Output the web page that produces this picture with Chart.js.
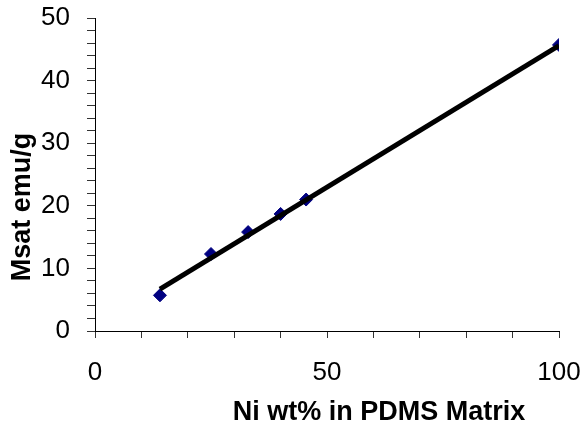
<!DOCTYPE html>
<html>
<head>
<meta charset="utf-8">
<script src="https://cdn.jsdelivr.net/npm/chart.js@4/dist/chart.umd.min.js"></script>
<style>
  html, body { margin: 0; padding: 0; background: #fff; }
  canvas { display: block; }
</style>
</head>
<body>
<canvas id="grafico" width="585" height="426"></canvas>
<script>
// Datos
const niWt = [14, 25, 33, 40, 45.5, 100];          // Ni wt% en matriz PDMS
const msat = [5.7, 12.3, 15.8, 18.7, 21.0, 45.7];   // Msat emu/g
const trendX = [14, 100];                            // extremos de la recta de ajuste
const trendY = [6.7, 45.6];
const xLabels = [0, 50, 100];
const yLabels = [0, 10, 20, 30, 40, 50];

const tituloX = 'Ni wt% in PDMS Matrix';
const tituloY = 'Msat emu/g';

// Titulos de los ejes dibujados a mano (van desplazados respecto al centro)
const titulosPlugin = {
  id: 'titulos',
  afterDraw(chart) {
    const ctx = chart.ctx;
    ctx.save();
    ctx.fillStyle = '#000';
    ctx.font = 'bold 27px "Liberation Sans", Arial, sans-serif';
    ctx.textAlign = 'center';
    ctx.textBaseline = 'alphabetic';
    ctx.fillText(tituloX, 379, 420);
    ctx.translate(30, 207);
    ctx.rotate(-Math.PI / 2);
    ctx.fillText(tituloY, 0, 0);
    ctx.restore();
  }
};

document.addEventListener('DOMContentLoaded', function () {
  const fuente = { family: '"Liberation Sans", Arial, sans-serif', size: 26 };

  new Chart(document.getElementById('grafico'), {
    type: 'scatter',
    data: {
      datasets: [
        {
          label: 'Msat',
          data: niWt.map((x, i) => ({ x: x, y: msat[i] })),
          pointStyle: 'rectRot',
          pointRadius: 6.5,
          backgroundColor: '#000080',
          borderColor: '#000080',
          borderWidth: 1,
          order: 2
        },
        {
          label: 'Ajuste',
          type: 'line',
          data: trendX.map((x, i) => ({ x: x, y: trendY[i] })),
          borderColor: '#000',
          borderWidth: 5,
          pointRadius: 0,
          fill: false,
          order: 1
        }
      ]
    },
    options: {
      responsive: false,
      animation: false,
      layout: { padding: { top: 18, right: 26, left: 0, bottom: 0 } },
      plugins: {
        legend: { display: false },
        tooltip: { enabled: false }
      },
      scales: {
        x: {
          type: 'linear',
          min: 0,
          max: 100,
          border: { color: '#000', width: 1 },
          grid: { drawOnChartArea: false, drawTicks: true, tickLength: 7, color: '#333' },
          ticks: {
            stepSize: 10,
            autoSkip: false,
            maxRotation: 0,
            padding: 19,
            color: '#000',
            font: fuente,
            callback: v => xLabels.includes(v) ? String(v) : ''
          },
          afterFit: s => { s.height = 95; s.paddingLeft = 0; s.paddingRight = 0; }
        },
        y: {
          min: 0,
          max: 50,
          border: { color: '#000', width: 1 },
          grid: { drawOnChartArea: false, drawTicks: true, tickLength: 8, color: '#333' },
          ticks: {
            stepSize: 2,
            autoSkip: false,
            padding: 17,
            color: '#000',
            font: fuente,
            callback: v => yLabels.includes(v) ? String(v) : ''
          },
          afterFit: s => { s.width = 95; s.paddingTop = 0; s.paddingBottom = 0; }
        }
      }
    },
    plugins: [titulosPlugin]
  });
});
</script>
</body>
</html>
